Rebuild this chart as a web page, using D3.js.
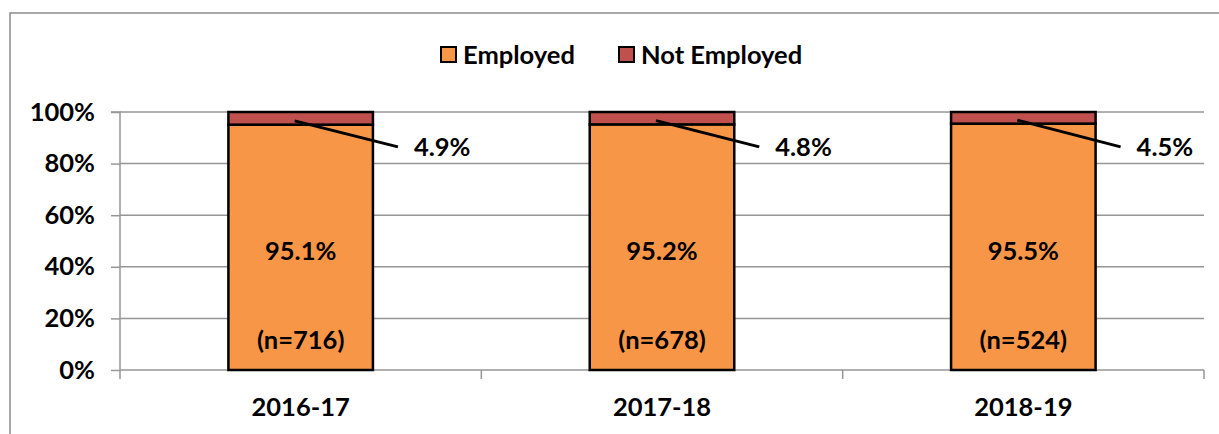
<!DOCTYPE html>
<html><head><meta charset="utf-8">
<script src="https://cdn.jsdelivr.net/npm/d3@7"></script>
<style>body{margin:0;background:#fff}svg{display:block}text{font-family:Lato,"Open Sans",sans-serif;font-weight:700;fill:#000}</style>
</head><body><svg id="c" width="1219" height="434"></svg>
<script>
const categories = ["2016-17","2017-18","2018-19"];
const employed = [95.1, 95.2, 95.5];
const notEmployed = [4.9, 4.8, 4.5];
const counts = [716, 678, 524];
const yTicks = [0,20,40,60,80,100];
const seriesNames = ["Employed","Not Employed"];
const colors = ["#F79646","#C0504D"];
const FS = 25.5;

const svg = d3.select("#c");
svg.append("rect").attr("x",10).attr("y",13).attr("width",1260).attr("height",460)
  .attr("fill","none").attr("stroke","#8c8c8c").attr("stroke-width",1.5);

const m = {l:120, r:1204, t:112, b:370};
const x = d3.scaleBand().domain(categories).range([m.l,m.r]).paddingInner(0.6).paddingOuter(0.3);
const y = d3.scaleLinear().domain([0,100]).range([m.b,m.t]);

// gridlines
svg.append("g").selectAll("line").data(yTicks.filter(d=>d>0)).join("line")
  .attr("x1",m.l).attr("x2",m.r).attr("y1",d=>y(d)).attr("y2",d=>y(d))
  .attr("stroke","#969696").attr("stroke-width",1.5);

// y axis
const ya = svg.append("g").attr("transform",`translate(${m.l},0)`)
  .call(d3.axisLeft(y).tickValues(yTicks).tickFormat(d=>d+"%").tickSize(9).tickPadding(16));
ya.select(".domain").attr("stroke","#969696").attr("stroke-width",1.5).attr("d",`M-9,${m.t}H0V${m.b}`);
ya.selectAll(".tick line").attr("stroke","#969696").attr("stroke-width",1.5);
ya.selectAll("text").attr("font-size",FS).attr("font-family","Lato").attr("font-weight",700).attr("fill","#000");

// x axis
const step = (m.r-m.l)/categories.length;
const xa = svg.append("g").attr("transform",`translate(0,${m.b})`)
  .call(d3.axisBottom(x).tickSize(0).tickPadding(28));
xa.select(".domain").remove();
xa.selectAll("text").attr("font-size",FS).attr("font-family","Lato").attr("font-weight",700).attr("fill","#000");
svg.append("line").attr("x1",m.l).attr("x2",m.r).attr("y1",m.b).attr("y2",m.b).attr("stroke","#969696").attr("stroke-width",1.5);
svg.append("g").selectAll("line").data(d3.range(categories.length+1)).join("line")
  .attr("x1",i=>m.l+i*step).attr("x2",i=>m.l+i*step).attr("y1",m.b).attr("y2",m.b+9)
  .attr("stroke","#969696").attr("stroke-width",1.5);

// bars
const g = svg.append("g");
categories.forEach((c,i)=>{
  g.append("rect").attr("x",x(c)).attr("width",x.bandwidth())
    .attr("y",y(employed[i])).attr("height",y(0)-y(employed[i]))
    .attr("fill",colors[0]).attr("stroke","#000").attr("stroke-width",2.5);
  g.append("rect").attr("x",x(c)).attr("width",x.bandwidth())
    .attr("y",y(100)).attr("height",y(employed[i])-y(100))
    .attr("fill",colors[1]).attr("stroke","#000").attr("stroke-width",2.5);
  const cx = x(c)+x.bandwidth()/2;
  g.append("text").attr("x",cx).attr("y",y(employed[i]/2)+4).attr("dy","0.35em")
    .attr("text-anchor","middle").attr("font-size",FS).text(employed[i].toFixed(1)+"%");
  g.append("text").attr("x",cx).attr("y",y(11.5)).attr("dy","0.35em")
    .attr("text-anchor","middle").attr("font-size",FS).text(`(n=${counts[i]})`);
  // leader line + label
  const x0 = cx-6, y0 = y(100 - notEmployed[i]*0.7);
  const x1 = x(c)+x.bandwidth()+25, y1 = y(86.5);
  g.append("line").attr("x1",x0).attr("y1",y0).attr("x2",x1).attr("y2",y1)
    .attr("stroke","#000").attr("stroke-width",3);
  g.append("text").attr("x",x1+16).attr("y",y1).attr("dy","0.35em")
    .attr("font-size",FS).text(notEmployed[i].toFixed(1)+"%");
});

// legend
const lg = svg.append("g");
const lx = [441, 619];
seriesNames.forEach((s,i)=>{
  lg.append("rect").attr("x",lx[i]).attr("y",47).attr("width",15).attr("height",15)
    .attr("fill",colors[i]).attr("stroke","#000").attr("stroke-width",2);
  lg.append("text").attr("x",lx[i]+22).attr("y",55).attr("dy","0.35em")
    .attr("font-size",FS).text(s);
});
</script></body></html>
